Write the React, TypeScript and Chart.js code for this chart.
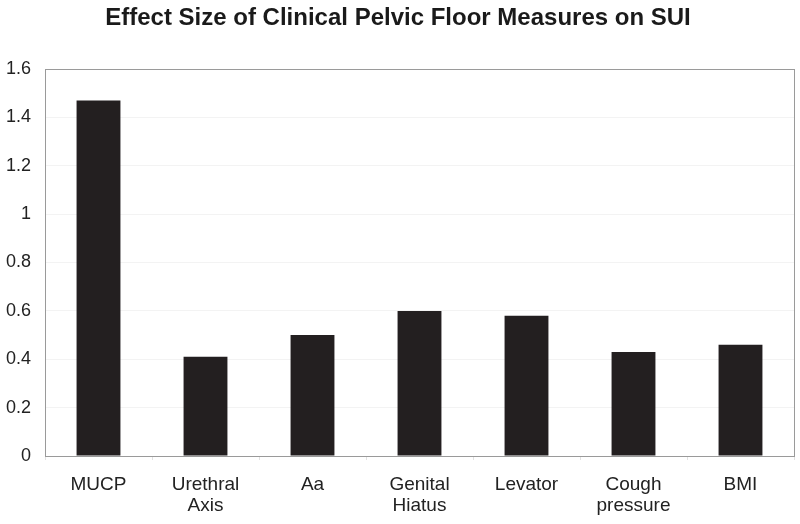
import React, { useEffect, useRef } from "react";
import { Chart, registerables } from "chart.js";

Chart.register(...registerables);

const categories: (string | string[])[] = [
  "MUCP",
  ["Urethral", "Axis"],
  "Aa",
  ["Genital", "Hiatus"],
  "Levator",
  ["Cough", "pressure"],
  "BMI",
];
const effectSizes = [1.47, 0.41, 0.5, 0.6, 0.58, 0.43, 0.46];
const chartTitle = "Effect Size of Clinical Pelvic Floor Measures on SUI";
const yMin = 0;
const yMax = 1.6;
const yStep = 0.2;

const FONT = "'Liberation Sans', Arial, Helvetica, sans-serif";

const titlePlugin = {
  id: "customTitle",
  afterDraw(chart: any) {
    const ctx = chart.ctx;
    ctx.save();
    ctx.font = `bold 24px ${FONT}`;
    ctx.fillStyle = "#1a1a1a";
    ctx.textAlign = "center";
    ctx.textBaseline = "alphabetic";
    ctx.fillText(chartTitle, 398, 25);
    ctx.restore();
  },
};

const framePlugin = {
  id: "frame",
  afterDatasetsDraw(chart: any) {
    const { ctx, chartArea } = chart;
    ctx.save();
    ctx.strokeStyle = "#9a9a9a";
    ctx.lineWidth = 1;
    ctx.strokeRect(
      Math.round(chartArea.left) + 0.5,
      Math.round(chartArea.top) + 0.5,
      Math.round(chartArea.right - chartArea.left),
      Math.round(chartArea.bottom - chartArea.top)
    );
    ctx.restore();
  },
};

export default function App() {
  const ref = useRef<HTMLCanvasElement | null>(null);

  useEffect(() => {
    document.body.style.margin = "0";
    const canvas = ref.current!;
    const chart = new Chart(canvas, {
      type: "bar",
      data: {
        labels: categories,
        datasets: [
          {
            data: effectSizes,
            backgroundColor: "#231f20",
            borderWidth: 0,
            categoryPercentage: 1,
            barPercentage: 0.41,
          },
        ],
      },
      options: {
        responsive: false,
        animation: false,
        devicePixelRatio: 1,
        layout: { padding: { top: 69, right: 6, left: 0, bottom: 0 } },
        plugins: {
          legend: { display: false },
          title: { display: false },
          tooltip: { enabled: false },
        },
        scales: {
          x: {
            grid: {
              display: true,
              drawOnChartArea: false,
              offset: true,
              tickLength: 4,
              color: "#e2e2e2",
            },
            border: { display: true, color: "#9a9a9a" },
            ticks: {
              color: "#222",
              font: { family: FONT, size: 19, lineHeight: 1.1 },
              padding: 14,
              maxRotation: 0,
              autoSkip: false,
            },
            afterFit(scale: any) {
              scale.height = 68;
            },
          },
          y: {
            min: yMin,
            max: yMax,
            grid: { color: "#f3f3f3", drawTicks: false },
            border: { display: true, color: "#9a9a9a" },
            ticks: {
              stepSize: yStep,
              color: "#222",
              font: { family: FONT, size: 18 },
              padding: 14,
              callback: (v: any) => String(Math.round(Number(v) * 10) / 10),
            },
            afterFit(scale: any) {
              scale.width = 45;
            },
          },
        },
      },
      plugins: [titlePlugin, framePlugin],
    });
    return () => chart.destroy();
  }, []);

  return <canvas ref={ref} width={800} height={524} style={{ display: "block" }} />;
}
